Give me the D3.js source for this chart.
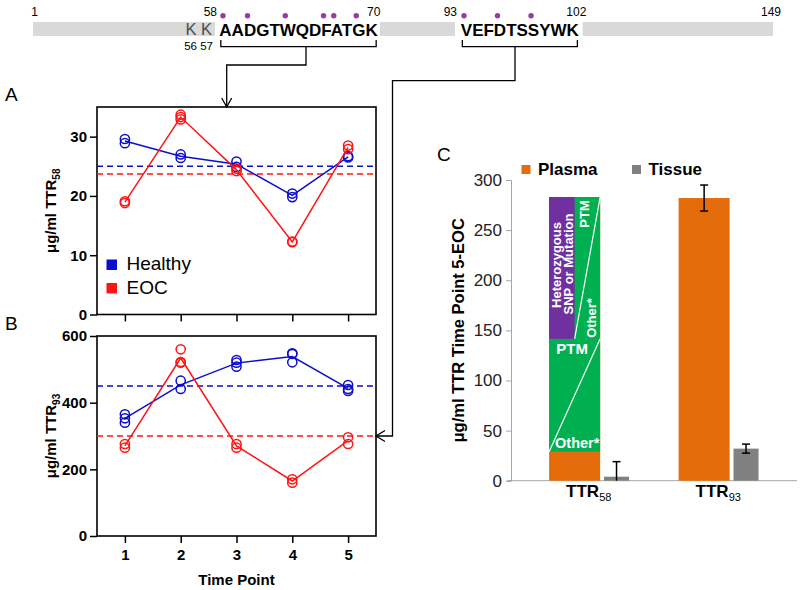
<!DOCTYPE html>
<html><head><meta charset="utf-8">
<script src="https://cdn.jsdelivr.net/npm/d3@7"></script>
<style>body{margin:0;background:#fff} svg{display:block;font-family:"Liberation Sans",Arial,sans-serif}</style>
</head><body><svg id="c" width="800" height="590"></svg>
<script>
// ---------------- data ----------------
const timePoints = [1, 2, 3, 4, 5];
const healthy58 = [[29.6, 28.9], [27.0, 26.4], [25.8, 24.9], [20.4, 19.8], [26.7, 26.5]];
const eoc58 = [[19.1, 18.8], [33.7, 33.3, 32.9], [24.6, 24.2], [12.3, 12.2], [28.5, 27.9]];
const healthyMean58 = 25.0, eocMean58 = 23.7;
const healthy93 = [[365, 353, 340], [466, 441], [528, 520, 508], [548, 546, 521], [453, 441, 435]];
const eoc93 = [[276, 265], [560, 522, 520], [276, 265], [170, 160], [296, 276]];
const healthyMean93 = 450, eocMean93 = 300;
const ticksA = [0, 10, 20, 30];
const ticksB = [0, 200, 400, 600];
const seriesNames = ["Healthy", "EOC"];

const categoriesC = ["58", "93"];
const plasmaC = [283, 282];
const plasmaErrC = [0, 13];
const tissueC = [4, 32];
const tissueErrC = [15, 4.5];
const ticksC = [0, 50, 100, 150, 200, 250, 300];
const legendC = ["Plasma", "Tissue"];
const ttr58OtherTop = 29;     // orange part of TTR58 plasma bar
const ttr58Split = 141.5;     // split between lower PTM/Other and upper SNP part

const peptide58 = "AADGTWQDFATGK", peptide93 = "VEFDTSSYWK";
const pepStart58 = 58, pepStart93 = 93;
const sites58 = [58, 60, 63, 66, 67, 69];
const sites93 = [93, 96, 99];
const seqLabels = [
  {t: "1", r: 1, anchor: "middle"}, {t: "58", r: 57.5, anchor: "end"},
  {t: "70", r: 70, anchor: "middle"}, {t: "93", r: 92.5, anchor: "end"},
  {t: "102", r: 102, anchor: "middle"}, {t: "149", r: 149, anchor: "middle"}];

// ---------------- setup ----------------
const svg = d3.select("#c");
const BLUE = "#0d0dcc", RED = "#ff1414";
const ORANGE = "#e46c0a", GRAY = "#808080", GREEN = "#00b050", PURPLE = "#7030a0";

// ---------------- sequence diagram ----------------
const seqX = d3.scaleLinear().domain([0.5, 57.5, 70.5, 92.5, 102.5, 149.5])
  .range([33, 215, 380, 455, 582.7, 773]);
const graySegs = [[0.5, 57.5], [70.5, 92.5], [102.5, 149.5]];
svg.selectAll("rect.seg").data(graySegs).join("rect").attr("class", "seg")
  .attr("x", d => seqX(d[0])).attr("width", d => seqX(d[1]) - seqX(d[0]))
  .attr("y", 22).attr("height", 14).attr("fill", "#d9d9d9");

svg.append("text").attr("x", seqX(57.5) - 3).attr("y", 35).attr("text-anchor", "end")
  .attr("font-size", 16.5).attr("fill", "#4d4d4d").text("K K");
svg.append("text").attr("x", seqX(57.5) - 2).attr("y", 49.5).attr("text-anchor", "end")
  .attr("font-size", 11.5).text("56 57");
svg.selectAll("text.seqlab").data(seqLabels).join("text").attr("class", "seqlab")
  .attr("x", d => seqX(d.r) + (d.anchor === "end" ? 2 : 0)).attr("y", 15.5)
  .attr("text-anchor", d => d.anchor).attr("font-size", 12).text(d => d.t);

function peptide(seq, start, sites, r0, r1) {
  const t = svg.append("text").attr("x", (seqX(r0) + seqX(r1)) / 2 + 1).attr("y", 35.5)
    .attr("text-anchor", "middle").attr("font-size", 17).attr("font-weight", "bold").text(seq);
  const node = t.node();
  const ext = i => node.getExtentOfChar(i);
  svg.selectAll(null).data(sites).join("circle")
    .attr("cx", r => { const e = ext(r - start); return e.x + e.width / 2 - 2.5; })
    .attr("cy", 15.7).attr("r", 2.7).attr("fill", "#9b3aa3");
  const left = ext(0).x + 1.5, last = ext(seq.length - 1), right = last.x + last.width - 1.5;
  svg.append("path").attr("d", `M${left},40V46.7H${right}V40`).attr("fill", "none")
    .attr("stroke", "#000").attr("stroke-width", 1.3);
}
peptide(peptide58, pepStart58, sites58, 57.5, 70.5);
peptide(peptide93, pepStart93, sites93, 92.5, 102.5);

// ---------------- panels A & B ----------------
const xAB = d3.scaleLinear().domain([0.5, 5.5]).range([97, 376]);
const yA = d3.scaleLinear().domain([0, 35]).range([314.5, 107]);
const yB = d3.scaleLinear().domain([0, 600]).range([536, 336]);

function panel(y, ticks, hData, eData, hMean, eMean, label, sub, showX) {
  const [y0, y1] = y.range();
  const g = svg.append("g");
  g.append("rect").attr("x", xAB.range()[0]).attr("y", y1).attr("width", xAB.range()[1] - xAB.range()[0])
    .attr("height", y0 - y1).attr("fill", "none").attr("stroke", "#000").attr("stroke-width", 1.6);
  const ya = g.append("g").attr("transform", `translate(${xAB.range()[0]},0)`)
    .call(d3.axisLeft(y).tickValues(ticks).tickSize(7).tickPadding(3));
  ya.select(".domain").remove();
  ya.selectAll("line").attr("stroke-width", 1.5);
  ya.selectAll("text").attr("font-size", 15).attr("font-weight", "bold").attr("font-family", "Liberation Sans, Arial");
  const xa = g.append("g").attr("transform", `translate(0,${y0})`)
    .call(d3.axisBottom(xAB).tickValues(timePoints).tickSize(7).tickPadding(6).tickFormat(showX ? d3.format("d") : ""));
  xa.select(".domain").remove();
  xa.selectAll("line").attr("stroke-width", 1.5);
  xa.selectAll("text").attr("font-size", 15).attr("font-weight", "bold").attr("font-family", "Liberation Sans, Arial");

  [[hMean, BLUE], [eMean, RED]].forEach(([m, c]) => {
    g.append("line").attr("x1", xAB.range()[0]).attr("x2", xAB.range()[1])
      .attr("y1", y(m)).attr("y2", y(m)).attr("stroke", c).attr("stroke-width", 1.6)
      .attr("stroke-dasharray", "6,4");
  });
  [[hData, BLUE], [eData, RED]].forEach(([data, c]) => {
    const line = d3.line().x((d, i) => xAB(timePoints[i])).y(d => y(d3.mean(d)));
    g.append("path").attr("d", line(data)).attr("fill", "none").attr("stroke", c).attr("stroke-width", 1.5);
    const pts = data.flatMap((vals, i) => vals.map(v => ({t: timePoints[i], v})));
    g.selectAll(null).data(pts).join("circle").attr("cx", d => xAB(d.t)).attr("cy", d => y(d.v))
      .attr("r", 4.6).attr("fill", "none").attr("stroke", c).attr("stroke-width", 1.5);
  });
  const t = g.append("text").attr("transform", `translate(56,${(y0 + y1) / 2}) rotate(-90)`)
    .attr("text-anchor", "middle").attr("font-size", 15).attr("font-weight", "bold");
  t.append("tspan").text("μg/ml TTR");
  t.append("tspan").attr("font-size", 10).attr("dy", 4).text(sub);
  svg.append("text").attr("x", 5).attr("y", y1 - 6).attr("font-size", 19).text(label);
}
panel(yA, ticksA, healthy58, eoc58, healthyMean58, eocMean58, "A", "58", false);
panel(yB, ticksB, healthy93, eoc93, healthyMean93, eocMean93, "B", "93", true);

svg.append("text").attr("x", (xAB.range()[0] + xAB.range()[1]) / 2).attr("y", 585)
  .attr("text-anchor", "middle").attr("font-size", 15).attr("font-weight", "bold").text("Time Point");

// legend A
seriesNames.forEach((n, i) => {
  const yy = 270 + i * 23.5;
  svg.append("rect").attr("x", 106.5).attr("y", yy - 10.5).attr("width", 10.5).attr("height", 10.5)
    .attr("fill", i ? RED : BLUE);
  svg.append("text").attr("x", 126.5).attr("y", yy).attr("font-size", 19).text(n);
});

// connectors
const conn = svg.append("g").attr("fill", "none").attr("stroke", "#000").attr("stroke-width", 1.3);
const arrowTopX = 226.7, yTopA = yA.range()[1];
conn.append("path").attr("d", `M306,46.7V65H${arrowTopX}V${yTopA}`);
conn.append("path").attr("d", `M${arrowTopX - 5},${yTopA - 9}L${arrowTopX},${yTopA}L${arrowTopX + 5},${yTopA - 9}`);
const yArr = yB(eocMean93), xRight = xAB.range()[1];
conn.append("path").attr("d", `M515,46.7V80.7H392.5V${yArr}H${xRight}`);
conn.append("path").attr("d", `M${xRight + 9},${yArr - 5.5}L${xRight},${yArr}L${xRight + 9},${yArr + 5.5}`);

// ---------------- panel C ----------------
const yC = d3.scaleLinear().domain([0, 300]).range([480.7, 180]);
const xC = d3.scaleBand().domain(categoriesC).range([524, 783]);
const bw = xC.bandwidth();
const plasmaX = c => xC(c) + bw * 0.194, plasmaW = bw * 0.394;
const tissueX = c => xC(c) + bw * 0.618, tissueW = bw * 0.193;

const ya = svg.append("g").attr("transform", "translate(511,0)")
  .call(d3.axisLeft(yC).tickValues(ticksC).tickSize(5).tickPadding(4));
ya.select(".domain").attr("stroke", "#a6a6a6");
ya.selectAll("line").attr("stroke", "#a6a6a6");
ya.selectAll("text").attr("font-size", 17).attr("fill", "#222").attr("font-family", "Liberation Sans, Arial");
svg.append("line").attr("x1", 508).attr("x2", 797).attr("y1", yC(0)).attr("y2", yC(0))
  .attr("stroke", "#a6a6a6");

// plasma bars
svg.selectAll(null).data(categoriesC).join("rect")
  .attr("x", c => plasmaX(c)).attr("width", plasmaW)
  .attr("y", (c, i) => yC(plasmaC[i])).attr("height", (c, i) => yC(0) - yC(plasmaC[i]))
  .attr("fill", ORANGE);
// tissue bars
svg.selectAll(null).data(categoriesC).join("rect")
  .attr("x", c => tissueX(c)).attr("width", tissueW)
  .attr("y", (c, i) => yC(tissueC[i])).attr("height", (c, i) => yC(0) - yC(tissueC[i]))
  .attr("fill", GRAY);

// composition of TTR58 plasma bar
const c0 = categoriesC[0], bx0 = plasmaX(c0), bx1 = bx0 + plasmaW, bxm = bx0 + plasmaW / 2;
svg.append("rect").attr("x", bx0).attr("width", plasmaW).attr("y", yC(plasmaC[0]))
  .attr("height", yC(ttr58OtherTop) - yC(plasmaC[0])).attr("fill", GREEN);
svg.append("rect").attr("x", bx0).attr("width", plasmaW / 2).attr("y", yC(plasmaC[0]))
  .attr("height", yC(ttr58Split) - yC(plasmaC[0])).attr("fill", PURPLE);
svg.append("line").attr("x1", bx0).attr("y1", yC(ttr58OtherTop)).attr("x2", bx1).attr("y2", yC(ttr58Split))
  .attr("stroke", "#fff").attr("stroke-width", 1.2);
svg.append("line").attr("x1", bxm).attr("y1", yC(ttr58Split)).attr("x2", bx1).attr("y2", yC(plasmaC[0]))
  .attr("stroke", "#fff").attr("stroke-width", 1.2);
const wt = (x, y, txt, size, rot) => svg.append("text")
  .attr("transform", `translate(${x},${y})${rot ? " rotate(-90)" : ""}`)
  .attr("text-anchor", "middle").attr("dominant-baseline", "central")
  .attr("font-size", size).attr("font-weight", "bold").attr("fill", "#fff").text(txt);
wt(bx0 + plasmaW * 0.45, yC(ttr58Split) + 9.5, "PTM", 15, false);
wt(bx0 + plasmaW * 0.55, yC(ttr58OtherTop) - 8.5, "Other*", 14.5, false);
wt(bx0 + plasmaW * 0.14, 265, "Heterozygous", 13, true);
wt(bx0 + plasmaW * 0.385, 264, "SNP or Mutation", 13, true);
wt(bx0 + plasmaW * 0.69, 214, "PTM", 13, true);
wt(bx0 + plasmaW * 0.84, 318, "Other*", 13, true);

// error bars
const err = (xc, v, e) => {
  if (!e) return;
  const lo = yC(Math.max(0, v - e)), hi = yC(v + e);
  const g = svg.append("g").attr("stroke", "#000").attr("stroke-width", 1.5);
  g.append("line").attr("x1", xc).attr("x2", xc).attr("y1", lo).attr("y2", hi);
  g.append("line").attr("x1", xc - 4).attr("x2", xc + 4).attr("y1", hi).attr("y2", hi);
  if (v - e > 0) g.append("line").attr("x1", xc - 4).attr("x2", xc + 4).attr("y1", lo).attr("y2", lo);
};
categoriesC.forEach((c, i) => {
  err(plasmaX(c) + plasmaW / 2, plasmaC[i], plasmaErrC[i]);
  err(tissueX(c) + tissueW / 2, tissueC[i], tissueErrC[i]);
});

// x labels
categoriesC.forEach(c => {
  const t = svg.append("text").attr("x", xC(c) + bw / 2).attr("y", 497).attr("text-anchor", "middle")
    .attr("font-size", 17).attr("font-weight", "bold");
  t.append("tspan").text("TTR");
  t.append("tspan").attr("font-size", 11).attr("dy", 4).attr("font-weight", "normal").text(c);
});

// y title C
svg.append("text").attr("transform", `translate(464,${(yC(0) + yC(300)) / 2}) rotate(-90)`)
  .attr("text-anchor", "middle").attr("font-size", 16.5).attr("font-weight", "bold")
  .text("μg/ml TTR Time Point 5-EOC");
svg.append("text").attr("x", 437).attr("y", 161).attr("font-size", 19).text("C");

// legend C
legendC.forEach((n, i) => {
  const x = 521.5 + i * 110.5;
  svg.append("rect").attr("x", x).attr("y", 165).attr("width", 9).attr("height", 9).attr("fill", i ? GRAY : ORANGE);
  svg.append("text").attr("x", x + 16.5).attr("y", 175).attr("font-size", 17).attr("font-weight", "bold").text(n);
});
</script></body></html>
